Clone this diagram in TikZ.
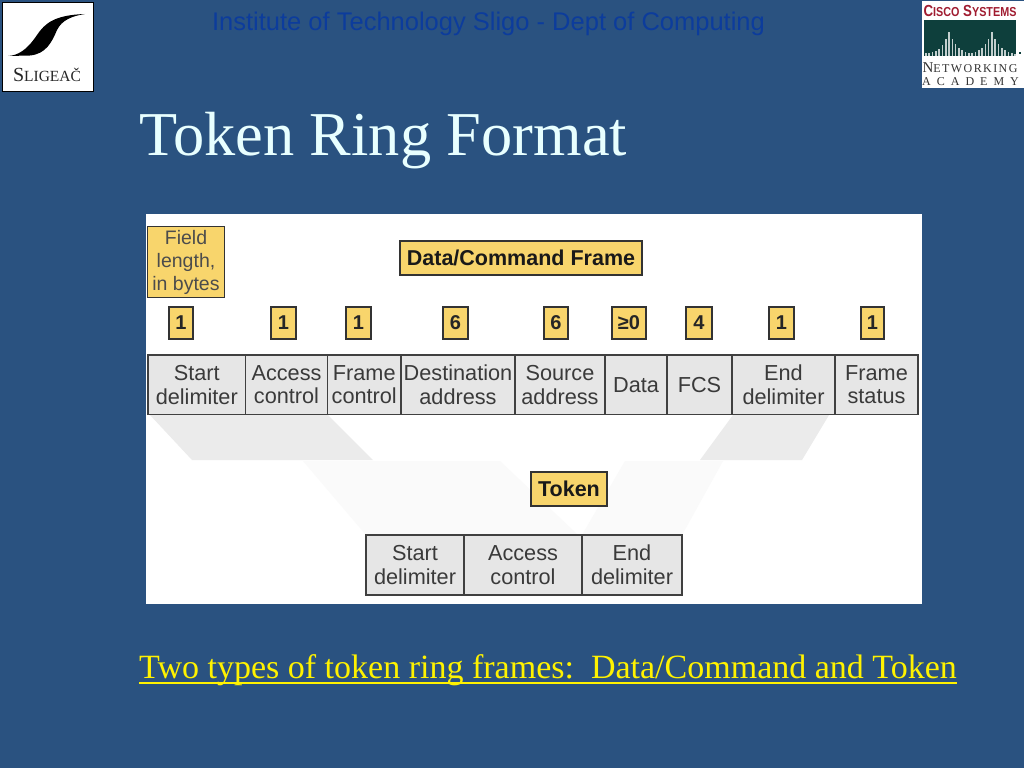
\documentclass[tikz,border=0pt]{standalone}
\usepackage{fontspec}
\setmainfont{Liberation Serif}
\setsansfont{Liberation Sans}
\definecolor{SlideBlue}{HTML}{2A5280}
\definecolor{HeadBlue}{HTML}{0C3C9C}
\definecolor{TitleWhite}{HTML}{E8FFFF}
\definecolor{LabelYellow}{HTML}{F8D56C}
\definecolor{CellGray}{HTML}{E6E6E6}
\definecolor{CellText}{HTML}{3A3A3A}
\definecolor{CiscoRed}{HTML}{A01C30}
\definecolor{CiscoGreen}{HTML}{0E3F3C}
\newcommand{\px}[1]{\fontsize{#1}{#1}\selectfont}
\tikzset{
  fieldcell/.style={draw=black!75,line width=1.1pt,fill=CellGray,text=CellText,font=\sffamily\px{21.7},
    align=center,inner sep=0pt,minimum height=59.5pt},
  tokencell/.style={fieldcell,minimum height=60pt},
  lenbox/.style={draw=black!80,line width=1.1pt,fill=LabelYellow,text=black!85,font=\sffamily\bfseries\px{20},
    inner sep=0pt,minimum height=32pt},
  titlebox/.style={draw=black!80,line width=1.1pt,fill=LabelYellow,text=black!90,font=\sffamily\bfseries\px{21.5},
    inner sep=0pt,minimum height=34pt}
}
\newcommand{\drawsligologo}{ % white box, swoosh, name
  \draw[black,fill=white,line width=1pt] (2.5,2.5) rectangle (93,91.5);
  \fill[black] (8,56) .. controls (18,55.5) and (27,50) .. (37,35)
    .. controls (45,23) and (55,15) .. (85,14)
    .. controls (72,16) and (62,20) .. (57,30)
    .. controls (52,42) and (46,54) .. (30,55.5) -- cycle;
  \node[font=\px{20},text=black!85,inner sep=0pt] (sligeach) at (47,75) {S{\px{15.5}LIGEAČ}};
}
\newcommand{\drawciscologo}{ % red name, green panel with bars, academy lines
  \fill[white] (922,1) rectangle (1024,88);
  \node[font=\sffamily\bfseries\px{16},text=CiscoRed,inner sep=0pt,xscale=0.83,transform shape] (cisco) at (970,10.5)
    {C{\px{13}ISCO} S{\px{13}YSTEMS}};
  \fill[CiscoGreen] (924,20) rectangle (1016,56);
  \foreach \h [count=\i] in {2.5,3,4,5,7,11,17,24,17,12,8,6,4,3,3,4,6,8,12,17,24,17,12,8,6,4,3,2}
    \fill[white!75!CiscoGreen] ({921.8+3.3*\i},56) rectangle ++(1.6,-\h);
  \fill[CiscoGreen] (1018.5,52) rectangle (1021,54.5);
  \node[font=\px{15},text=black!80,inner sep=0pt] (networking) at (970,68)
    {N{\px{12}\addfontfeature{LetterSpace=12}ETWORKING}};
  \node[font=\px{12},text=black!80,inner sep=0pt] (academy) at (970.5,81.5)
    {\addfontfeature{LetterSpace=50}ACADEMY};
}

\begin{document}
\begin{tikzpicture}[x=1pt,y=-1pt]
  \useasboundingbox (0,0) rectangle (1024,768);
  \fill[SlideBlue] (0,0) rectangle (1024,768);
  \drawsligologo
  \drawciscologo
  \node[font=\sffamily\px{25.5},text=HeadBlue,inner sep=0pt] (header) at (488.5,24) {Institute of Technology Sligo - Dept of Computing};
  \node[font=\px{62.4},text=TitleWhite,inner sep=0pt,anchor=base west] (title) at (139,155) {Token Ring Format};

  % panel and the grey bands behind it
  \fill[white] (146,214) rectangle (922,604);
  \fill[black!8] (150,415) -- (328,415) -- (373,460) -- (192,460) -- cycle;
  \fill[black!8] (733,415) -- (829,415) -- (802,460) -- (700,460) -- cycle;
  \fill[black!2] (303,461) -- (500,461) -- (578,535) -- (366,535) -- cycle;
  \fill[black!2] (625,461) -- (723,461) -- (682,535) -- (582,535) -- cycle;

  \node[titlebox,minimum width=77pt,minimum height=71pt,align=center,font=\sffamily\px{19.5},text=black!70] (lengthkey) at (186,262)
    {\raisebox{-1pt}{Field}\\[3.5pt]\raisebox{-1pt}{length,}\\[3.5pt]\raisebox{-1pt}{in bytes}};
  \node[titlebox,minimum width=242pt] (dataframe) at (521,258) {\raisebox{-1pt}{Data/Command Frame}};

  \node[lenbox,minimum width=24pt] (lenstart) at (181,323) {1};
  \node[lenbox,minimum width=25pt] (lenaccess) at (283.5,323) {1};
  \node[lenbox,minimum width=25pt] (lenframe) at (358.5,323) {1};
  \node[lenbox,minimum width=25pt] (lendest) at (455.5,323) {6};
  \node[lenbox,minimum width=24pt] (lensource) at (556,323) {6};
  \node[lenbox,minimum width=34pt] (lendata) at (629,323) {≥0};
  \node[lenbox,minimum width=26pt] (lenfcs) at (699,323) {4};
  \node[lenbox,minimum width=25pt] (lenend) at (781.5,323) {1};
  \node[lenbox,minimum width=23pt] (lenstatus) at (872.5,323) {1};

  \node[fieldcell,minimum width=97.5pt] (start) at (196.75,384.75) {Start\\[2pt]delimiter};
  \node[fieldcell,minimum width=82pt] (access) at (286.5,384.75) {Access\\[2pt]control};
  \node[fieldcell,minimum width=73.5pt] (frame) at (364.25,384.75) {Frame\\[2pt]control};
  \node[fieldcell,minimum width=114pt] (dest) at (458,384.75) {Destination\\[2pt]address};
  \node[fieldcell,minimum width=90pt] (source) at (560,384.75) {Source\\[2pt]address};
  \node[fieldcell,minimum width=62pt] (data) at (636,384.75) {Data};
  \node[fieldcell,minimum width=65pt] (fcs) at (699.5,384.75) {FCS};
  \node[fieldcell,minimum width=103pt] (end) at (783.5,384.75) {End\\[2pt]delimiter};
  \node[fieldcell,minimum width=83pt] (status) at (876.5,384.75) {Frame\\[2pt]status};

  \node[titlebox,minimum width=76pt] (tokenkey) at (569,489) {\raisebox{-2pt}{Token}};
  \node[tokencell,minimum width=98pt] (tokstart) at (415,565) {Start\\[2pt]delimiter};
  \node[tokencell,minimum width=118pt] (tokaccess) at (523,565) {Access\\[2pt]control};
  \node[tokencell,minimum width=100pt] (tokend) at (632,565) {End\\[2pt]delimiter};

  \node[font=\px{34},text=yellow,inner sep=0pt,anchor=base west] (caption) at (139,678)
    {Two types of token ring frames:\ \ Data/Command and Token};
  \draw[yellow,line width=1.6pt] ([yshift=-5pt]caption.base west) -- ([yshift=-5pt]caption.base east);
\end{tikzpicture}
\end{document}
